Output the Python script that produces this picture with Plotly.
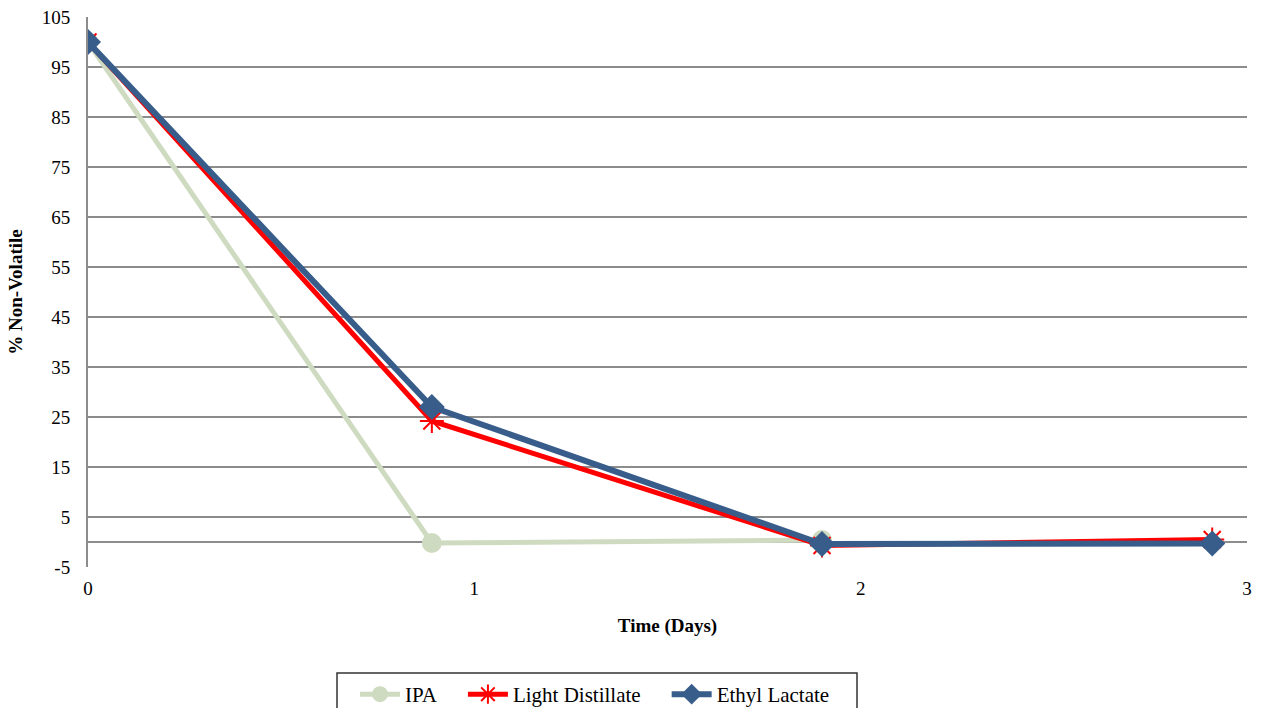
import plotly.graph_objects as go

# Sampling times (days) and percent non-volatile residue for each solvent
days = [0, 0.89, 1.9, 2.91]
ipa = [100, -0.2, 0.4]
light_distillate = [100, 24.2, -0.7, 0.5]
ethyl_lactate = [100, 27, -0.4, -0.3]

y_ticks = [-5, 5, 15, 25, 35, 45, 55, 65, 75, 85, 95, 105]
x_ticks = [0, 1, 2, 3]

serif = "Liberation Serif"
pad = "\u00a0" * 4

fig = go.Figure()
fig.add_trace(go.Scatter(
    x=days[:len(ipa)], y=ipa, name="IPA" + pad, mode="lines+markers",
    line=dict(color="#CFDBC1", width=5),
    marker=dict(symbol="circle", size=20, color="#CFDBC1"),
))
fig.add_trace(go.Scatter(
    x=days, y=light_distillate, name="Light Distillate" + pad, mode="lines+markers",
    line=dict(color="#FF0000", width=5),
    marker=dict(symbol="asterisk-open", size=20, line=dict(color="#FF0000", width=2)),
))
fig.add_trace(go.Scatter(
    x=days, y=ethyl_lactate, name="Ethyl Lactate", mode="lines+markers",
    line=dict(color="#385D8A", width=6),
    marker=dict(symbol="diamond", size=20, color="#385D8A"),
))

# Frame around the legend
fig.add_shape(
    type="rect", xref="paper", yref="paper",
    x0=(337 - 88) / 1159, x1=(857 - 88) / 1159,
    y0=(567 - 673) / 550, y1=(567 - 730) / 550,
    line=dict(color="#333333", width=1.5), fillcolor="rgba(0,0,0,0)",
)

fig.update_layout(
    width=1265, height=708,
    margin=dict(l=88, r=18, t=17, b=141, autoexpand=False),
    paper_bgcolor="white", plot_bgcolor="white",
    font=dict(family=serif, size=19, color="black"),
    xaxis=dict(
        range=[0, 3], tickvals=x_ticks, ticktext=[str(v) for v in x_ticks],
        showgrid=False, zeroline=False, showline=False, ticks="",
        ticklabelstandoff=8,
        title=dict(text="<b>Time (Days)</b>", font=dict(family=serif, size=19), standoff=20),
    ),
    yaxis=dict(
        range=[-5, 105], tickvals=y_ticks, ticktext=[str(v) for v in y_ticks],
        showgrid=True, gridcolor="#8C8C8C", gridwidth=2,
        zeroline=True, zerolinecolor="#8C8C8C", zerolinewidth=2,
        showline=True, linecolor="#8C8C8C", linewidth=2, ticks="",
        ticklabelstandoff=12,
        title=dict(text="<b>% Non-Volatile</b>", font=dict(family=serif, size=19), standoff=14),
    ),
    legend=dict(
        orientation="h", x=355 / 1265, y=1 - 674 / 708,
        xref="container", yref="container", xanchor="left", yanchor="top",
        borderwidth=0, bgcolor="rgba(0,0,0,0)",
        font=dict(family=serif, size=21, color="black"),
        itemwidth=40,
    ),
)

fig.write_html("out.html")
